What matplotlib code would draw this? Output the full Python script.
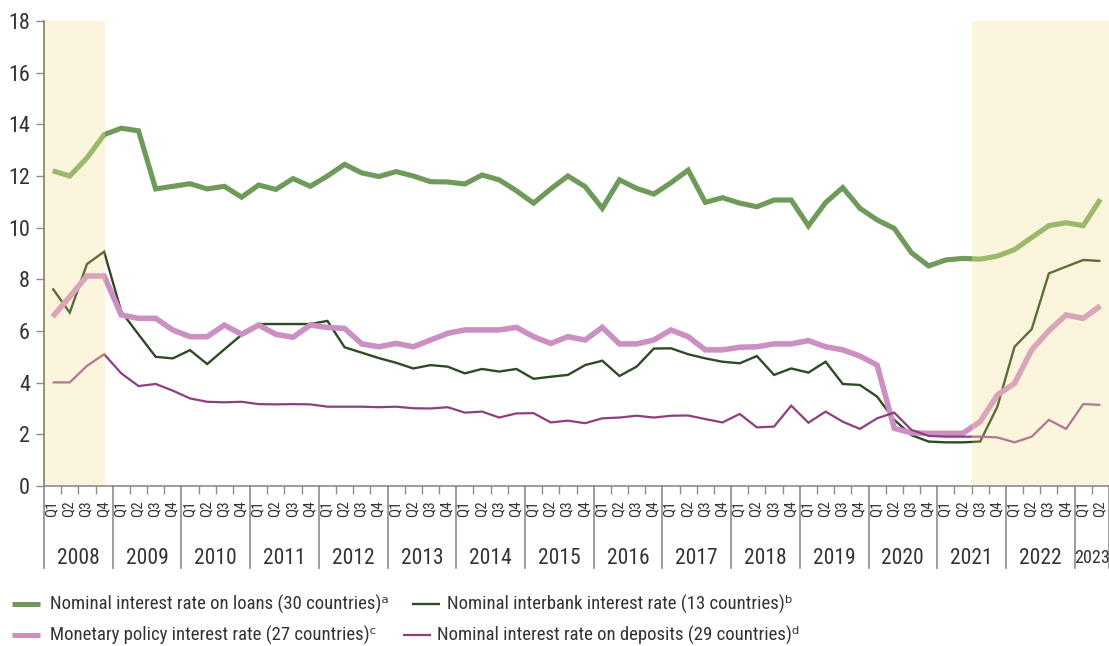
import matplotlib

matplotlib.use("Agg")
import matplotlib.pyplot as plt
from matplotlib import font_manager
from matplotlib.lines import Line2D
from matplotlib.patches import Rectangle

AVAILABLE = {f.name for f in font_manager.fontManager.ttflist}
FONT = next(f for f in ["Roboto Condensed", "Liberation Sans Narrow", "Open Sans Condensed",
                        "Noto Sans Condensed", "Liberation Sans", "DejaVu Sans"] if f in AVAILABLE)
plt.rcParams["font.family"] = [FONT, "DejaVu Sans"]

# quarterly series, 2008 Q1 .. 2023 Q2 (percent)
YEARS = list(range(2008, 2024))
QUARTERS = ["Q1", "Q2", "Q3", "Q4"]
PERIODS = [(y, q) for y in YEARS for q in QUARTERS][:62]

loans = [12.2, 12.0, 12.7, 13.6, 13.85, 13.75, 11.5, 11.6, 11.7, 11.5, 11.6, 11.18,
         11.65, 11.48, 11.9, 11.6, 12.0, 12.45, 12.12, 11.98, 12.17, 12.0, 11.78, 11.77,
         11.69, 12.04, 11.85, 11.43, 10.95, 11.5, 12.0, 11.59, 10.75, 11.85, 11.52, 11.3,
         11.74, 12.23, 10.98, 11.16, 10.95, 10.81, 11.07, 11.07, 10.07, 10.97, 11.55, 10.75,
         10.3, 9.97, 9.03, 8.52, 8.75, 8.81, 8.78, 8.9, 9.15, 9.62, 10.08, 10.19, 10.08, 11.1]
interbank = [7.65, 6.71, 8.59, 9.07, 6.75, 5.87, 5.0, 4.94, 5.26, 4.72, 5.29, 5.85,
             6.27, 6.27, 6.27, 6.27, 6.39, 5.37, 5.16, 4.95, 4.77, 4.55, 4.68, 4.62,
             4.36, 4.53, 4.43, 4.53, 4.15, 4.23, 4.3, 4.68, 4.85, 4.26, 4.62, 5.32,
             5.33, 5.1, 4.94, 4.81, 4.75, 5.03, 4.3, 4.55, 4.39, 4.81, 3.95, 3.91,
             3.46, 2.56, 1.97, 1.72, 1.69, 1.69, 1.72, 3.07, 5.39, 6.07, 8.23, 8.49, 8.75, 8.71]
policy = [6.55, 7.33, 8.13, 8.13, 6.62, 6.49, 6.49, 6.04, 5.78, 5.78, 6.23, 5.87,
          6.23, 5.87, 5.76, 6.23, 6.14, 6.1, 5.5, 5.39, 5.52, 5.39, 5.65, 5.91,
          6.04, 6.04, 6.04, 6.14, 5.78, 5.52, 5.78, 5.65, 6.14, 5.5, 5.5, 5.65,
          6.04, 5.78, 5.27, 5.27, 5.37, 5.39, 5.5, 5.5, 5.63, 5.39, 5.27, 5.03,
          4.68, 2.23, 2.06, 2.04, 2.04, 2.04, 2.49, 3.52, 3.97, 5.27, 6.01, 6.62, 6.49, 6.97]
deposits = [4.01, 4.01, 4.65, 5.1, 4.36, 3.87, 3.95, 3.69, 3.39, 3.26, 3.24, 3.26,
            3.17, 3.16, 3.17, 3.16, 3.07, 3.07, 3.07, 3.05, 3.07, 3.01, 3.0, 3.05,
            2.84, 2.88, 2.65, 2.81, 2.82, 2.46, 2.53, 2.43, 2.62, 2.65, 2.72, 2.65,
            2.72, 2.73, 2.59, 2.46, 2.79, 2.27, 2.3, 3.11, 2.45, 2.88, 2.49, 2.21,
            2.62, 2.84, 2.17, 1.94, 1.91, 1.91, 1.91, 1.88, 1.69, 1.91, 2.56, 2.21, 3.17, 3.14]

SERIES = [
    ("Nominal interest rate on loans (30 countries)ᵃ", loans, "#6f9a5a", "#9cb86a", 3.7),
    ("Nominal interbank interest rate (13 countries)ᵇ", interbank, "#2f4a25", "#5b6e3a", 1.7),
    ("Monetary policy interest rate (27 countries)ᶜ", policy, "#cc8fc1", "#d9a5b7", 4.0),
    ("Nominal interest rate on deposits (29 countries)ᵈ", deposits, "#8e3f7e", "#b07790", 1.6),
]
# shaded periods (index ranges of the quarters above)
SHADE = [(-0.5, 3.05), (53.5, 61.5)]

TXT = "#333333"
GRID = "#8c8c8c"
NARROW = FONT != "Liberation Sans" and FONT != "DejaVu Sans"


def main():
    fig = plt.figure(figsize=(11.09, 6.46), dpi=100)
    W, H = 1109, 646
    ax = fig.add_axes([44 / W, 160 / H, 1065 / W, 465 / H])
    x = list(range(len(PERIODS)))

    for a, b in SHADE:
        ax.axvspan(a, b, color="#fcf5de", lw=0, zorder=0)

    # clip rects: normal colour outside shading, lighter inside
    xt = ax.get_xaxis_transform()
    normal = [(SHADE[0][1], SHADE[1][0])]
    for _, vals, dark, light, lw in SERIES:
        for rng, col in [(r, dark) for r in normal] + [(r, light) for r in SHADE]:
            ln, = ax.plot(x, vals, color=col, lw=lw, solid_joinstyle="miter",
                          solid_capstyle="butt", zorder=3)
            rect = Rectangle((rng[0], -0.1), rng[1] - rng[0], 1.2, transform=xt)
            ln.set_clip_path(rect)

    ax.set_xlim(-0.5, len(PERIODS) - 0.5)
    ax.set_ylim(0, 18)
    ax.set_yticks(range(0, 19, 2))
    ax.tick_params(axis="y", length=6, width=1, color=GRID, labelsize=16,
                   labelcolor=TXT, pad=4)
    ax.set_xticks([])
    minor = [i + 0.5 for i in x[:-1] if PERIODS[i][1] != "Q4"]
    ax.set_xticks(minor, minor=True)
    ax.tick_params(axis="x", which="minor", length=6, width=1, color=GRID)

    for s in ("top", "right"):
        ax.spines[s].set_visible(False)
    ax.spines["left"].set_color("#8a7e68")
    ax.spines["left"].set_linewidth(1.2)
    ax.spines["bottom"].set_color(GRID)
    ax.spines["bottom"].set_linewidth(1.2)

    # quarter labels
    for i, (yr, q) in enumerate(PERIODS):
        ax.annotate(q, (i, 0), xycoords=xt, xytext=(-1, -14), textcoords="offset pixels",
                    rotation=90, ha="center", va="top", fontsize=11 if NARROW else 9,
                    color=TXT)

    # year separators and labels
    sep_y = -82 / 465
    bounds = [i - 0.5 for i, p in enumerate(PERIODS) if p[1] == "Q1"] + [len(PERIODS) - 0.5]
    for b in bounds:
        ax.add_line(Line2D([b, b], [0, sep_y], transform=xt, color=GRID, lw=1.2, clip_on=False))
    for yr in YEARS:
        idx = [i for i, p in enumerate(PERIODS) if p[0] == yr]
        ax.text(sum(idx) / len(idx), -72 / 465, str(yr), transform=xt, ha="center",
                va="center", fontsize=15.5 if len(idx) == 4 else (13 if NARROW else 10.5),
                color=TXT)

    # legend, two rows
    pos = [(12, 604, 50), (412, 604, 447), (12, 635, 50), (403, 635, 437)]
    for (lx, ly, tx), (label, _, dark, _, lw) in zip(pos, SERIES):
        fig.add_artist(Line2D([lx / W, (lx + 28) / W], [1 - ly / H, 1 - ly / H],
                              transform=fig.transFigure, color=dark,
                              lw=min(lw, 3.6), solid_capstyle="butt"))
        fig.text(tx / W, 1 - ly / H, label, ha="left", va="center",
                 fontsize=13.5 if NARROW else 11.5, color=TXT)

    fig.savefig("out.png", dpi=100)
    plt.close(fig)


if __name__ == "__main__":
    main()
